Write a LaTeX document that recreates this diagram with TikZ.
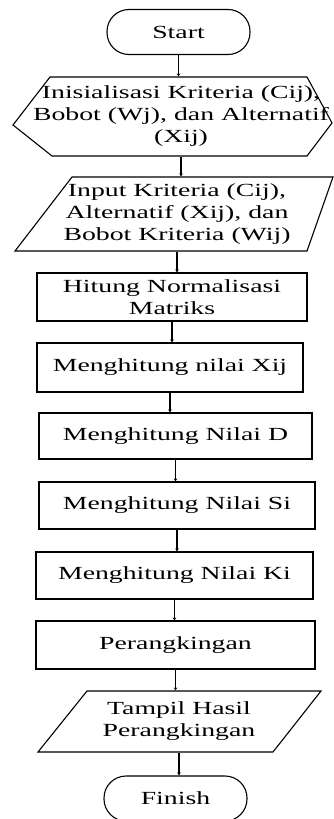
\documentclass[tikz,border=0pt]{standalone}
\usepackage{fontspec}
\setmainfont{Liberation Serif}[FakeStretch=1.5]
\usetikzlibrary{arrows.meta}
\begin{document}
\begin{tikzpicture}[x=1pt,y=-1pt,
  line width=1.1pt,
  txt/.style={inner sep=0pt, align=center, font=\fontsize{18.5}{22}\selectfont},
  box/.style={txt, draw, minimum width=#1},
  term/.style={txt, draw, rounded corners=22pt, minimum width=143pt, minimum height=45pt},
  arr/.style={-{Stealth[length=3pt,width=3.5pt]}}]
\useasboundingbox (0,0) rectangle (333,819);

\node[term] (start) at (178.5,32) {Start};

\node[txt, minimum height=79pt] (hex) at (181,116.5) {Inisialisasi Kriteria (Cij),\\ Bobot (Wj), dan Alternatif\\ (Xij)};
\draw (50,77) -- (307,77) -- (332,123) -- (307,156) -- (52,156) -- (13,125) -- cycle;

\node[txt, minimum height=74pt] (in1) at (177,214) {Input Kriteria (Cij),\\ Alternatif (Xij), dan\\ Bobot Kriteria (Wij)};
\draw (72,177) -- (333,177) -- (307,251) -- (15,251) -- cycle;

\node[box=270pt, minimum height=48pt] (norm) at (172,297) {Hitung Normalisasi\\ Matriks};
\node[box=266pt, minimum height=49pt] (xij) at (170,367.5) {Menghitung nilai Xij};
\node[box=273pt, minimum height=46pt] (d) at (175.5,436) {Menghitung Nilai D};
\node[box=276pt, minimum height=47pt] (si) at (177,505.5) {Menghitung Nilai Si};
\node[box=277pt, minimum height=47pt] (ki) at (174.5,575.5) {Menghitung Nilai Ki};
\node[box=279pt, minimum height=48pt] (rank) at (175.5,645) {Perangkingan};

\node[txt, minimum height=61pt] (out) at (179,721.5) {Tampil Hasil\\ Perangkingan};
\draw (87,691) -- (321,691) -- (273,752) -- (38,752) -- cycle;

\node[term] (finish) at (175.5,798.5) {Finish};

\draw[arr] (start.south) -- (start.south |- hex.north);
\draw[arr] (hex.south) -- (hex.south |- in1.north);
\draw[arr] (in1.south) -- (in1.south |- norm.north);
\draw[arr] (norm.south) -- (norm.south |- xij.north);
\draw[arr] (xij.south) -- (xij.south |- d.north);
\draw[arr] (d.south) -- (d.south |- si.north);
\draw[arr] (si.south) -- (si.south |- ki.north);
\draw[arr] (ki.south) -- (ki.south |- rank.north);
\draw[arr] (rank.south) -- (rank.south |- out.north);
\draw[arr] (out.south) -- (out.south |- finish.north);
\end{tikzpicture}
\end{document}
